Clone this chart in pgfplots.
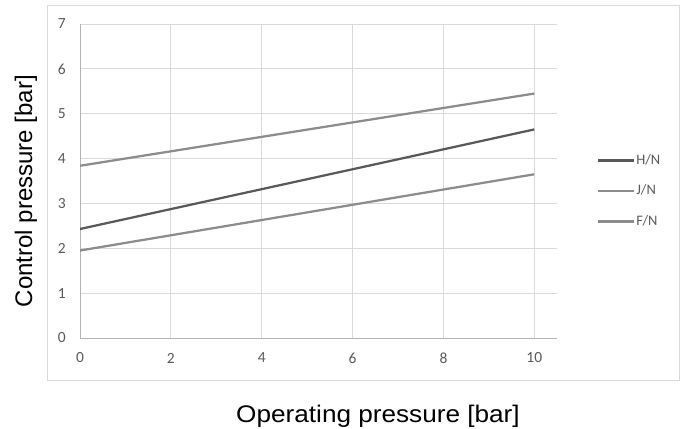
\documentclass[border=0pt]{standalone}
\usepackage{pgfplots}
\pgfplotsset{compat=1.18}
\usepackage{fontspec}
\setmainfont{Liberation Sans}
\newfontfamily\calfont{Carlito}
\definecolor{gridc}{HTML}{D9D9D9}
\definecolor{axisc}{HTML}{B3B3B3}
\definecolor{tickc}{HTML}{595959}
\definecolor{hn}{HTML}{595959}
\definecolor{jn}{HTML}{8C8C8C}
\definecolor{fn}{HTML}{8C8C8C}
\begin{document}
\begin{tikzpicture}[x=1pt,y=1pt]
\path[use as bounding box] (0,0) rectangle (687,-428);
\draw[gridc, line width=1pt] (47,-6) rectangle (679,-380);
\begin{axis}[
  at={(80pt,-338pt)}, anchor=south west,
  scale only axis, width=477pt, height=314pt,
  xmin=0, xmax=10.5, ymin=0, ymax=7,
  xtick={0,2,4,6,8,10}, ytick={0,1,2,3,4,5,6,7},
  axis x line=bottom, axis y line=left,
  axis line style={-, draw=axisc, line width=1pt},
  major tick length=0pt,
  grid=major, major grid style={draw=gridc, line width=1pt},
  /pgf/number format/assume math mode=true,
  ticklabel style={font=\calfont\fontsize{15.5}{17}\selectfont, text=tickc, inner sep=0pt},
  xticklabel style={anchor=center, yshift=-20pt},
  yticklabel style={anchor=east, xshift=-14pt},
  legend style={at={(rel axis cs:1.084,0.468)}, anchor=west, draw=none, fill=none,
    inner sep=0pt, outer sep=0pt, row sep=15.5pt,
    font=\calfont\fontsize{14.5}{16}\selectfont, text=tickc,
    nodes={inner sep=1pt, text height=10pt, text depth=3pt}},
  legend cell align=left,
  legend image code/.code={\draw[#1] (0pt,0pt) -- (36pt,0pt);},
]
\addplot[hn, line width=2.25pt] coordinates {(0,2.43) (10,4.65)};
\addlegendentry{H/N}
\addplot[jn, line width=2.25pt] coordinates {(0,1.95) (10,3.65)};
\addlegendentry{J/N}
\addplot[fn, line width=2.25pt] coordinates {(0,3.84) (10,5.45)};
\addlegendentry{F/N}
\end{axis}
\node[rotate=90, anchor=base, font=\fontsize{24}{28}\selectfont] at (32,-191) {Control pressure [bar]};
\node[anchor=base, xscale=1.09, font=\fontsize{24}{28}\selectfont] at (378,-422) {Operating pressure [bar]};
\end{tikzpicture}
\end{document}
